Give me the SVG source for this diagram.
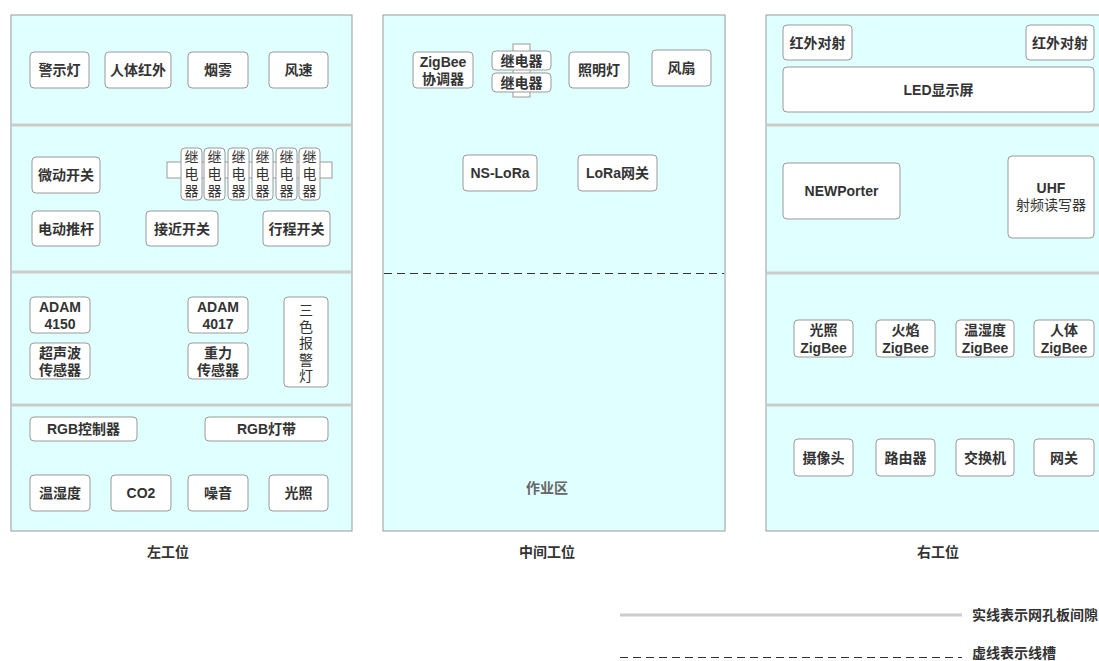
<svg xmlns="http://www.w3.org/2000/svg" width="1099" height="661" viewBox="0 0 1099 661">
<style>
text{font-family:"Liberation Sans","Noto Sans CJK SC",sans-serif;font-size:14px;fill:#333;text-anchor:middle;dominant-baseline:central}
.b{font-weight:bold}
.panel{fill:#e0ffff;stroke:#999;stroke-width:1}
.sep{stroke:#ccc;stroke-width:3}
.dash{stroke:#333;stroke-width:1;stroke-dasharray:8 5}
.n{fill:#fff;stroke:#999;stroke-width:1}
.rl{fill:#fff;stroke:#999;stroke-width:1}
</style>
<rect width="1099" height="661" fill="#fff"/>
<g id="left-panel">
<rect class="panel" x="11" y="15" width="341" height="516"/>
<line class="sep" x1="12" y1="125" x2="351" y2="125"/>
<line class="sep" x1="12" y1="272" x2="351" y2="272"/>
<line class="sep" x1="12" y1="405" x2="351" y2="405"/>
</g>
<g id="middle-panel">
<rect class="panel" x="383" y="15" width="342" height="516"/>
<line class="dash" x1="384" y1="273.5" x2="724" y2="273.5"/>
<text class="b" x="547" y="488" style="fill:#666">作业区</text>
</g>
<g id="right-panel">
<rect class="panel" x="766" y="15" width="345" height="516"/>
<line class="sep" x1="767" y1="125" x2="1099" y2="125"/>
<line class="sep" x1="767" y1="273" x2="1099" y2="273"/>
<line class="sep" x1="767" y1="405" x2="1099" y2="405"/>
</g>
<g id="connectors"></g>
<g id="n-jsd"><rect class="n" x="30" y="52" width="59" height="36" rx="4"/><text class="b" x="59.5" y="70">警示灯</text></g>
<g id="n-rthw"><rect class="n" x="105" y="52" width="66" height="36" rx="4"/><text class="b" x="138" y="70">人体红外</text></g>
<g id="n-yw"><rect class="n" x="188" y="52" width="60" height="36" rx="4"/><text class="b" x="218" y="70">烟雾</text></g>
<g id="n-fs"><rect class="n" x="269" y="52" width="59" height="36" rx="4"/><text class="b" x="298.5" y="70">风速</text></g>
<g id="n-wdkg"><rect class="n" x="32" y="157" width="68" height="36" rx="4"/><text class="b" x="66" y="175">微动开关</text></g>
<g id="n-ddtg"><rect class="n" x="32" y="211" width="68" height="35" rx="4"/><text class="b" x="66" y="228.5">电动推杆</text></g>
<g id="n-jjkg"><rect class="n" x="146" y="211" width="72" height="35" rx="4"/><text class="b" x="182" y="228.5">接近开关</text></g>
<g id="n-xckg"><rect class="n" x="263" y="211" width="67" height="35" rx="4"/><text class="b" x="296.5" y="228.5">行程开关</text></g>
<g id="n-relays-left">
<rect class="rl" x="167" y="162" width="165" height="16"/>
<rect class="rl" x="181" y="148" width="21" height="52" rx="4"/><text x="191.5" y="157">继</text><text x="191.5" y="174">电</text><text x="191.5" y="191">器</text>
<rect class="rl" x="204" y="148" width="21" height="52" rx="4"/><text x="214.5" y="157">继</text><text x="214.5" y="174">电</text><text x="214.5" y="191">器</text>
<rect class="rl" x="228" y="148" width="21" height="52" rx="4"/><text x="238.5" y="157">继</text><text x="238.5" y="174">电</text><text x="238.5" y="191">器</text>
<rect class="rl" x="252" y="148" width="21" height="52" rx="4"/><text x="262.5" y="157">继</text><text x="262.5" y="174">电</text><text x="262.5" y="191">器</text>
<rect class="rl" x="276" y="148" width="21" height="52" rx="4"/><text x="286.5" y="157">继</text><text x="286.5" y="174">电</text><text x="286.5" y="191">器</text>
<rect class="rl" x="299" y="148" width="21" height="52" rx="4"/><text x="309.5" y="157">继</text><text x="309.5" y="174">电</text><text x="309.5" y="191">器</text>
</g>
<g id="n-adam4150"><rect class="n" x="30" y="297" width="60" height="36" rx="4"/><text class="b" x="60" y="306.5">ADAM</text><text class="b" x="60" y="324">4150</text></g>
<g id="n-csb"><rect class="n" x="30" y="343" width="60" height="36" rx="4"/><text class="b" x="60" y="352.5">超声波</text><text class="b" x="60" y="370">传感器</text></g>
<g id="n-adam4017"><rect class="n" x="188" y="297" width="60" height="36" rx="4"/><text class="b" x="218" y="306.5">ADAM</text><text class="b" x="218" y="324">4017</text></g>
<g id="n-zl"><rect class="n" x="188" y="343" width="60" height="36" rx="4"/><text class="b" x="218" y="352.5">重力</text><text class="b" x="218" y="370">传感器</text></g>
<g id="n-ssbjd"><rect class="n" x="284" y="297" width="44" height="90" rx="4"/><text x="306" y="310">三</text><text x="306" y="326.5">色</text><text x="306" y="343">报</text><text x="306" y="359.5">警</text><text x="306" y="376">灯</text></g>
<g id="n-rgbkzq"><rect class="n" x="30" y="417" width="107" height="24" rx="4"/><text class="b" x="83.5" y="429">RGB控制器</text></g>
<g id="n-rgbdd"><rect class="n" x="205" y="417" width="123" height="24" rx="4"/><text class="b" x="266.5" y="429">RGB灯带</text></g>
<g id="n-wsd"><rect class="n" x="30" y="475" width="60" height="36" rx="4"/><text class="b" x="60" y="493">温湿度</text></g>
<g id="n-co2"><rect class="n" x="111" y="475" width="60" height="36" rx="4"/><text class="b" x="141" y="493">CO2</text></g>
<g id="n-zy"><rect class="n" x="188" y="475" width="60" height="36" rx="4"/><text class="b" x="218" y="493">噪音</text></g>
<g id="n-gz"><rect class="n" x="269" y="475" width="59" height="36" rx="4"/><text class="b" x="298.5" y="493">光照</text></g>
<g id="n-zbxtq"><rect class="n" x="413" y="52" width="60" height="36" rx="4"/><text class="b" x="443" y="61.5">ZigBee</text><text class="b" x="443" y="79">协调器</text></g>
<g id="n-relays-mid">
<rect class="rl" x="513" y="44" width="17" height="53"/>
<rect class="rl" x="492" y="51" width="59" height="19" rx="4"/><text class="b" x="521.5" y="60.5">继电器</text>
<rect class="rl" x="492" y="73" width="59" height="19" rx="4"/><text class="b" x="521.5" y="82.5">继电器</text>
</g>
<g id="n-zmd"><rect class="n" x="569" y="52" width="60" height="36" rx="4"/><text class="b" x="599" y="70">照明灯</text></g>
<g id="n-ff"><rect class="n" x="652" y="50" width="59" height="36" rx="4"/><text class="b" x="681.5" y="68">风扇</text></g>
<g id="n-nslora"><rect class="n" x="463" y="155" width="74" height="36" rx="4"/><text class="b" x="500" y="173">NS-LoRa</text></g>
<g id="n-lorawg"><rect class="n" x="578" y="155" width="79" height="36" rx="4"/><text class="b" x="617.5" y="173">LoRa网关</text></g>
<g id="n-hwds1"><rect class="n" x="783" y="25" width="69" height="35" rx="4"/><text class="b" x="817.5" y="42.5">红外对射</text></g>
<g id="n-hwds2"><rect class="n" x="1026" y="25" width="68" height="35" rx="4"/><text class="b" x="1060" y="42.5">红外对射</text></g>
<g id="n-led"><rect class="n" x="783" y="67" width="311" height="45" rx="4"/><text class="b" x="938.5" y="89.5">LED显示屏</text></g>
<g id="n-newporter"><rect class="n" x="783" y="163" width="117" height="56" rx="4"/><text class="b" x="841.5" y="191">NEWPorter</text></g>
<g id="n-uhf"><rect class="n" x="1008" y="156" width="86" height="82" rx="4"/><text class="b" x="1051" y="188">UHF</text><text x="1051" y="205">射频读写器</text></g>
<g id="n-gzzb"><rect class="n" x="794" y="320" width="59" height="37" rx="4"/><text class="b" x="823.5" y="330">光照</text><text class="b" x="823.5" y="347.5">ZigBee</text></g>
<g id="n-hyzb"><rect class="n" x="876" y="320" width="59" height="37" rx="4"/><text class="b" x="905.5" y="330">火焰</text><text class="b" x="905.5" y="347.5">ZigBee</text></g>
<g id="n-wsdzb"><rect class="n" x="956" y="320" width="58" height="37" rx="4"/><text class="b" x="985" y="330">温湿度</text><text class="b" x="985" y="347.5">ZigBee</text></g>
<g id="n-rtzb"><rect class="n" x="1034" y="320" width="60" height="37" rx="4"/><text class="b" x="1064" y="330">人体</text><text class="b" x="1064" y="347.5">ZigBee</text></g>
<g id="n-sxt"><rect class="n" x="794" y="439" width="59" height="37" rx="4"/><text class="b" x="823.5" y="457.5">摄像头</text></g>
<g id="n-lyq"><rect class="n" x="876" y="439" width="59" height="37" rx="4"/><text class="b" x="905.5" y="457.5">路由器</text></g>
<g id="n-jhj"><rect class="n" x="956" y="439" width="58" height="37" rx="4"/><text class="b" x="985" y="457.5">交换机</text></g>
<g id="n-wg"><rect class="n" x="1034" y="439" width="60" height="37" rx="4"/><text class="b" x="1064" y="457.5">网关</text></g>
<g id="labels">
<text class="b" x="168" y="552">左工位</text>
<text class="b" x="547" y="552">中间工位</text>
<text class="b" x="938" y="552">右工位</text>
</g>
<g id="legend">
<line class="sep" x1="620" y1="615" x2="962" y2="615"/>
<text class="b" x="972" y="615" style="text-anchor:start">实线表示网孔板间隙</text>
<line class="dash" x1="620" y1="657.5" x2="962" y2="657.5"/>
<text class="b" x="972" y="653" style="text-anchor:start">虚线表示线槽</text>
</g>
</svg>
